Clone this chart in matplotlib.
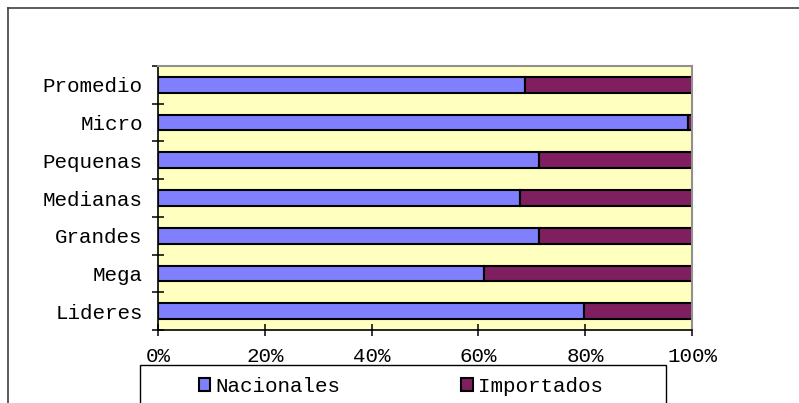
import matplotlib
matplotlib.use("Agg")
import matplotlib.pyplot as plt
import matplotlib.patches as mpatches
from matplotlib.lines import Line2D
import numpy as np

categories = ["Lideres", "Mega", "Grandes", "Medianas", "Pequenas", "Micro", "Promedio"]
nacionales = [79.8, 61.1, 71.3, 67.8, 71.4, 99.2, 68.7]
importados = [20.2, 38.9, 28.7, 32.2, 28.6, 0.8, 31.3]
xticks = [0, 20, 40, 60, 80, 100]
xticklabels = ["0%", "20%", "40%", "60%", "80%", "100%"]

plt.rcParams['font.family'] = ['Liberation Mono', 'DejaVu Sans']

W, H = 799, 403
fig = plt.figure(figsize=(W / 100, H / 100), dpi=100)

# plot area in pixels
left, right, top, bottom = 158, 692, 66, 330
ax = fig.add_axes([left / W, 1 - bottom / H, (right - left) / W, (bottom - top) / H])
ax.set_facecolor("#FFFFC0")

y = np.arange(len(categories))
blue = "#8080FF"
maroon = "#7F1F5F"
ax.barh(y, nacionales, height=0.42, color=blue, edgecolor="black", linewidth=1.5)
ax.barh(y, importados, left=nacionales, height=0.42, color=maroon, edgecolor="black", linewidth=1.5)

ax.set_xlim(0, 100)
ax.set_ylim(-0.5, len(categories) - 0.5)

ax.set_xticks(xticks)
ax.set_xticklabels(xticklabels, fontsize=15)
ax.set_yticks(y)
ax.set_yticklabels(categories, fontsize=15)
ax.tick_params(axis="y", which="major", length=0, pad=11)
ax.set_yticks(np.arange(len(categories) + 1) - 0.5, minor=True)
ax.tick_params(axis="y", which="minor", direction="inout", length=9, width=1.1)
ax.tick_params(axis="x", direction="inout", length=9, width=1.1, pad=8)

for s in ["top", "right"]:
    ax.spines[s].set_color("#909090")
    ax.spines[s].set_linewidth(1.5)
for s in ["left", "bottom"]:
    ax.spines[s].set_color("black")
    ax.spines[s].set_linewidth(1.2)

# outer chart border (cut off on the right and bottom)
fig.add_artist(Line2D([8 / W, 1], [1 - 8 / H, 1 - 8 / H], transform=fig.transFigure, color="#404040", lw=1.2))
fig.add_artist(Line2D([8 / W, 8 / W], [1 - 8 / H, 0], transform=fig.transFigure, color="#404040", lw=1.2))

# legend box
fig.add_artist(mpatches.Rectangle((140 / W, -0.05), (666 - 140) / W, 0.05 + 1 - 365 / H,
                                  transform=fig.transFigure, facecolor="white",
                                  edgecolor="black", lw=1.0))
handles = [mpatches.Patch(facecolor=blue, edgecolor="black", lw=1.5),
           mpatches.Patch(facecolor=maroon, edgecolor="black", lw=1.5)]
fig.legend(handles, ["Nacionales", "Importados"], loc="center",
           bbox_to_anchor=(401 / W, 1 - 386 / H), ncol=2, frameon=False,
           fontsize=15, handlelength=0.55, handleheight=0.6, handletextpad=0.25,
           columnspacing=5.8, borderpad=0, borderaxespad=0)

fig.savefig("out.png", dpi=100)
